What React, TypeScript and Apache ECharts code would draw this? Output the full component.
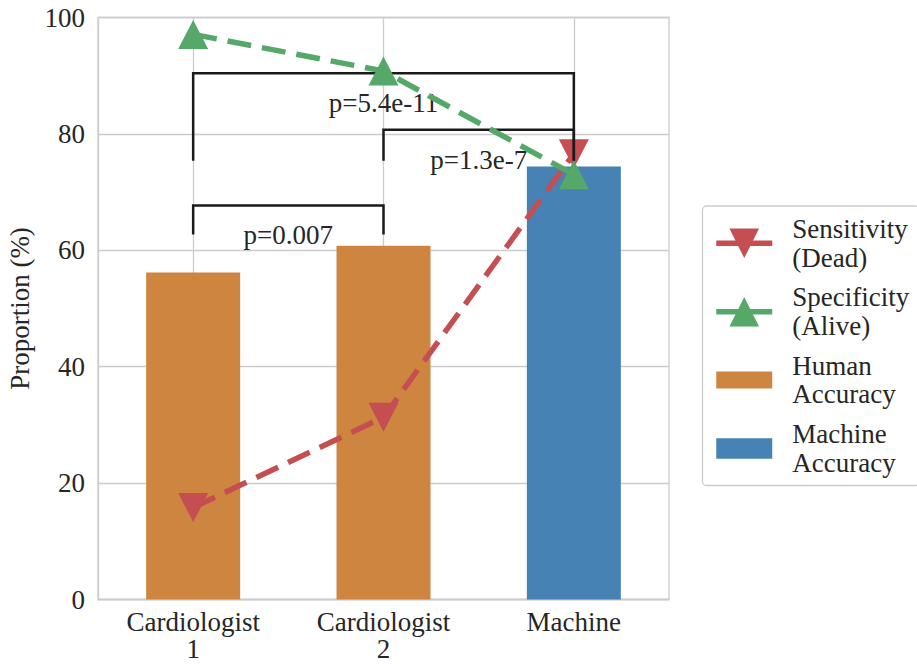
import React, { useEffect, useRef } from 'react';
import * as echarts from 'echarts';

const categories = ['Cardiologist\n1', 'Cardiologist\n2', 'Machine'];
const sensitivity = [15.8, 31.3, 76.6];
const specificity = [97.1, 90.8, 73.0];
const humanAccuracy: (number | string)[] = [56.2, 60.8, '-'];
const machineAccuracy: (number | string)[] = ['-', '-', 74.4];
const bracketFrom = [0, 1, 0];
const bracketTo = [1, 2, 2];
const bracketTop = [67.7, 80.7, 90.4];
const bracketBottom = [62.7, 75.4, 75.4];
const pLabels = ['p=0.007', 'p=1.3e-7', 'p=5.4e-11'];
const seriesNames = ['Sensitivity\n(Dead)', 'Specificity\n(Alive)', 'Human\nAccuracy', 'Machine\nAccuracy'];
const yMin = 0;
const yMax = 100;
const yInterval = 20;

const FONT = 'Liberation Serif';
const FS = 27;
const TEXT = '#262626';
const GRID = '#cccccc';

export default function App() {
  const ref = useRef<HTMLDivElement>(null);
  useEffect(() => {
    document.body.style.margin = '0';
    if (!ref.current) return;
    const chart = echarts.init(ref.current, null, { renderer: 'svg' });
    const bracketData = bracketFrom.map((f, i) => [f, bracketTo[i], bracketTop[i], bracketBottom[i]]);
    chart.setOption({
      animation: false,
      backgroundColor: '#ffffff',
      textStyle: { fontFamily: FONT },
      grid: {
        left: 98, top: 17.5, right: 248, bottom: 64.5,
        show: true, borderColor: GRID, borderWidth: 1.3, containLabel: false,
        outerBoundsMode: 'none',
      },
      xAxis: {
        type: 'category',
        data: categories,
        boundaryGap: true,
        axisLine: { show: true, lineStyle: { color: GRID, width: 1.3 } },
        axisTick: { show: false },
        axisLabel: { fontFamily: FONT, fontSize: FS, color: TEXT, lineHeight: 27.5, margin: 8.5, interval: 0 },
        splitLine: { show: true, alignWithLabel: true, lineStyle: { color: GRID, width: 1.3 } },
      },
      yAxis: {
        type: 'value',
        min: yMin, max: yMax, interval: yInterval,
        name: 'Proportion (%)',
        nameLocation: 'middle',
        nameGap: 57,
        nameTextStyle: { fontFamily: FONT, fontSize: FS, color: TEXT },
        axisLine: { show: true, lineStyle: { color: GRID, width: 1.3 } },
        axisTick: { show: false },
        axisLabel: { fontFamily: FONT, fontSize: FS, color: TEXT, margin: 13 },
        splitLine: { show: true, lineStyle: { color: GRID, width: 1.3 } },
      },
      legend: {
        orient: 'vertical',
        left: 702.5, top: 206,
        itemWidth: 56, itemHeight: 37, itemGap: 11.4,
        padding: [8.8, 10, 8.5, 11],
        borderColor: GRID, borderWidth: 1.3, borderRadius: 4,
        backgroundColor: '#ffffff',
        selectedMode: false,
        textStyle: { fontFamily: FONT, fontSize: FS, color: TEXT, lineHeight: 28.5, padding: [0, 0, 0, 15] },
        data: [
          { name: seriesNames[0], lineStyle: { type: 'solid', width: 5.5 } },
          { name: seriesNames[1], lineStyle: { type: 'solid', width: 5.5 } },
          { name: seriesNames[2], icon: 'path://M0 0H56V17H0Z' },
          { name: seriesNames[3], icon: 'path://M0 0H56V20.5H0Z' },
        ],
      },
      series: [
        {
          name: seriesNames[2], type: 'bar', data: humanAccuracy, stack: 'acc', barWidth: 94, z: 2,
          itemStyle: { color: '#CD853F' },
        },
        {
          name: seriesNames[3], type: 'bar', data: machineAccuracy, stack: 'acc', barWidth: 94, z: 2,
          itemStyle: { color: '#4682B4' },
        },
        {
          name: seriesNames[0], type: 'line', data: sensitivity, z: 3,
          symbol: 'triangle', symbolRotate: 180, symbolSize: [30, 29],
          itemStyle: { color: '#C44E52' },
          lineStyle: { color: '#C44E52', width: 5.5, type: [24, 11] },
        },
        {
          name: 'brackets', type: 'custom', z: 4, clip: false,
          data: bracketData,
          encode: { x: [0, 1], y: [2, 3] },
          renderItem: (params: any, api: any) => {
            const i0 = api.value(0);
            const i1 = api.value(1);
            const top = api.value(2);
            const bot = api.value(3);
            const a = api.coord([i0, bot]);
            const b = api.coord([i0, top]);
            const c = api.coord([i1, top]);
            const d = api.coord([i1, bot]);
            return {
              type: 'group',
              children: [
                {
                  type: 'polyline',
                  shape: { points: [a, b, c, d] },
                  style: { stroke: '#1a1a1a', lineWidth: 2.5, fill: null },
                },
                {
                  type: 'text',
                  x: (b[0] + c[0]) / 2,
                  y: b[1] + 30,
                  style: {
                    text: pLabels[params.dataIndex],
                    fontFamily: FONT, fontSize: FS, fill: TEXT,
                    align: 'center', verticalAlign: 'middle',
                  },
                },
              ],
            };
          },
        },
        {
          name: seriesNames[1], type: 'line', data: specificity, z: 5,
          symbol: 'triangle', symbolSize: [30, 29],
          itemStyle: { color: '#55A868' },
          lineStyle: { color: '#55A868', width: 5.5, type: [24, 11] },
        },
      ],
    });
    return () => chart.dispose();
  }, []);
  return <div ref={ref} style={{ position: 'fixed', left: 0, top: 0, width: 917, height: 664 }} />;
}
